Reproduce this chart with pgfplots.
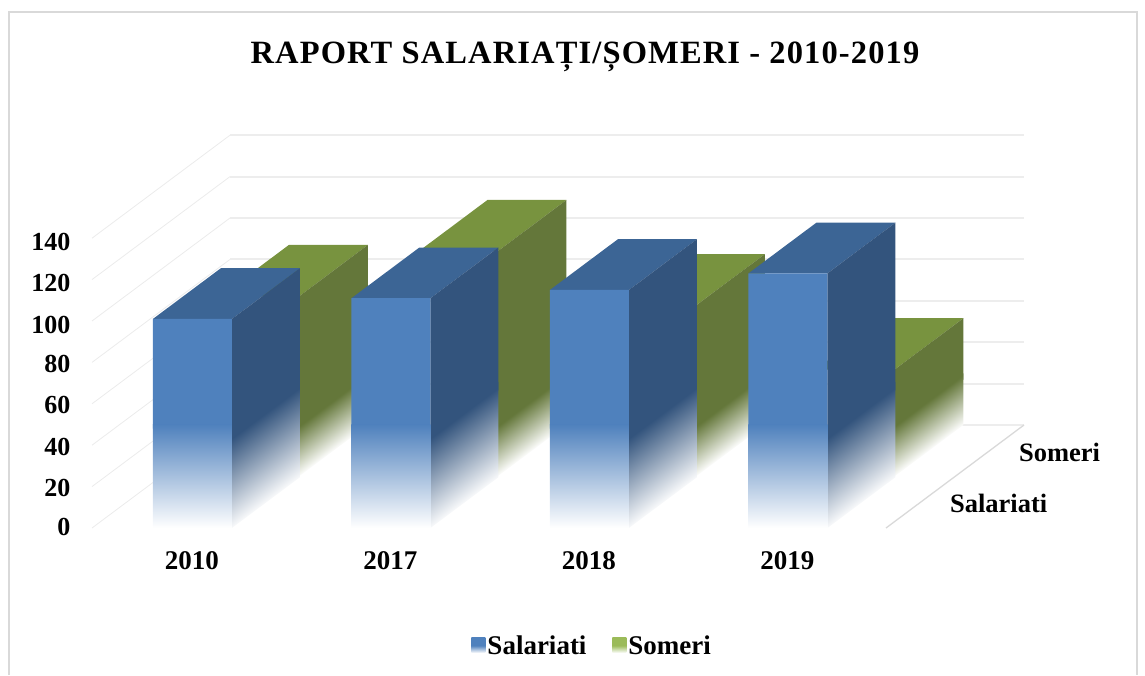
\documentclass[border=0pt]{standalone}
\usepackage{fontspec}
\setmainfont{Liberation Serif}
\newfontfamily\titlefont[LetterSpace=3.5]{Liberation Serif}
\usepackage{pgfplots}
\pgfplotsset{compat=1.18}
\definecolor{bfront}{HTML}{4F81BD}
\definecolor{bside}{HTML}{33547D}
\definecolor{btop}{HTML}{3C6595}
\definecolor{gfront}{HTML}{76923C}
\definecolor{gside}{HTML}{64773A}
\definecolor{gtop}{HTML}{78933F}
\definecolor{lgreen}{HTML}{9BBB59}
\definecolor{wallgrid}{HTML}{EDEDED}
\definecolor{leftgrid}{HTML}{EBEBEB}
\definecolor{frameg}{HTML}{D9D9D9}
\pgfdeclareverticalshading{bfade}{100bp}{color(0bp)=(white); color(32bp)=(white); color(65bp)=(bside); color(100bp)=(bside)}
\pgfdeclareverticalshading{gfade}{100bp}{color(0bp)=(white); color(38bp)=(white); color(61bp)=(gside); color(100bp)=(gside)}
\pgfdeclareverticalshading{lgb}{100bp}{color(0bp)=(white); color(25bp)=(white); color(50bp)=(bfront); color(100bp)=(bfront)}
\pgfdeclareverticalshading{lgg}{100bp}{color(0bp)=(white); color(25bp)=(white); color(50bp)=(lgreen); color(100bp)=(lgreen)}
% x0 x1 value : blue bar, depth 0 to 0.985
\newcommand{\bluebar}[3]{%
  \addplot3[forget plot,draw=none,fill=btop] coordinates {(#1,0,#3) (#2,0,#3) (#2,0.985,#3) (#1,0.985,#3) (#1,0,#3)};
  \addplot3[forget plot,draw=none,fill=bside] coordinates {(#2,0,42) (#2,0.985,42) (#2,0.985,#3) (#2,0,#3) (#2,0,42)};
  \addplot3[forget plot,draw=none,shade,shading=bfade,shading angle=36.7] coordinates {(#2,0,0) (#2,0.985,0) (#2,0.985,46) (#2,0,46) (#2,0,0)};
  \addplot3[forget plot,draw=none,fill=bfront] coordinates {(#1,0,48) (#2,0,48) (#2,0,#3) (#1,0,#3) (#1,0,48)};
  \addplot3[forget plot,draw=none,top color=bfront,bottom color=white] coordinates {(#1,0,0) (#2,0,0) (#2,0,50) (#1,0,50) (#1,0,0)};
}
% x0 x1 value : green bar, depth 1 to 2
\newcommand{\greenbar}[3]{%
  \addplot3[forget plot,draw=none,fill=gtop] coordinates {(#1,1,#3) (#2,1,#3) (#2,2,#3) (#1,2,#3) (#1,1,#3)};
  \addplot3[forget plot,draw=none,fill=gside] coordinates {(#2,1,22) (#2,2,22) (#2,2,#3) (#2,1,#3) (#2,1,22)};
  \addplot3[forget plot,draw=none,shade,shading=gfade,shading angle=36.7] coordinates {(#2,1,0) (#2,2,0) (#2,2,25) (#2,1,25) (#2,1,0)};
}
\begin{document}
\begin{tikzpicture}[x=1pt,y=1pt]
\useasboundingbox (0,0) rectangle (1145,675);
\draw[frameg,line width=2pt] (9,0) -- (9,663) -- (1137,663) -- (1137,0);
\node[font=\titlefont\bfseries\fontsize{32.5}{36}\selectfont,anchor=center] at (585,618) {RAPORT SALARIAȚI/ȘOMERI - 2010-2019};
\begin{axis}[
  at={(92pt,147pt)},anchor=origin,
  x={(198.5pt,0pt)},y={(69pt,51.5pt)},z={(0pt,2.07pt)},
  xmin=0,xmax=4,ymin=0,ymax=2,zmin=0,zmax=140,
  clip=false,
  axis line style={draw=none},
  major tick length=0pt,
  tick style={draw=none},
  xtick={0.5,1.5,2.5,3.5},
  xticklabels={2010,2017,2018,2019},
  ytick={0.5,1.5},
  yticklabels={Salariati,Someri},
  ztick={0,20,40,60,80,100,120,140},
  ytick pos=left,
  ztick pos=left,
  /pgf/number format/assume math mode=true,
  tick label style={font=\bfseries\fontsize{26}{30}\selectfont},
  xticklabel style={font=\bfseries\fontsize{27}{30}\selectfont,xshift=7pt,yshift=-20pt},
  yticklabel style={font=\bfseries\fontsize{26.5}{30}\selectfont,anchor=west,xshift=26pt,yshift=-1.5pt},
  zticklabel style={xshift=-18pt,yshift=4pt},
  legend columns=2,
  legend style={at={(axis cs:2.52,0,-57)},anchor=center,draw=none,fill=none,
    font=\bfseries\fontsize{27}{30}\selectfont,
    /tikz/every even column/.append style={column sep=24pt}},
]
\addlegendimage{legend image code/.code={\shade[draw=none,shading=lgb] (-8pt,-7pt) rectangle (6pt,8pt);}}
\addlegendentry{Salariati}
\addlegendimage{legend image code/.code={\shade[draw=none,shading=lgg] (-8pt,-7pt) rectangle (6pt,8pt);}}
\addlegendentry{Someri}
% walls
\pgfplotsinvokeforeach{20,40,60,80,100,120,140}{
  \addplot3[forget plot,leftgrid,line width=0.8pt] coordinates {(0,0,#1) (0,2,#1)};
  \addplot3[forget plot,wallgrid,line width=2pt] coordinates {(0,2,#1) (4,2,#1)};
}
\addplot3[forget plot,leftgrid,line width=0.8pt] coordinates {(0,0,0) (0,2,0)};
\addplot3[forget plot,wallgrid,line width=2pt] coordinates {(0,2,0) (4,2,0)};
\addplot3[forget plot,frameg,line width=1.3pt] coordinates {(4,0,0) (4,2,0)};
% green series
\greenbar{0.297}{0.695}{87}
\greenbar{1.297}{1.695}{108.7}
\greenbar{2.297}{2.695}{82.6}
\greenbar{3.297}{3.695}{51.6}
% blue series
\bluebar{0.307}{0.705}{101}
\bluebar{1.307}{1.705}{111}
\bluebar{2.307}{2.705}{115}
\bluebar{3.307}{3.705}{123}
\end{axis}
\end{tikzpicture}
\end{document}
